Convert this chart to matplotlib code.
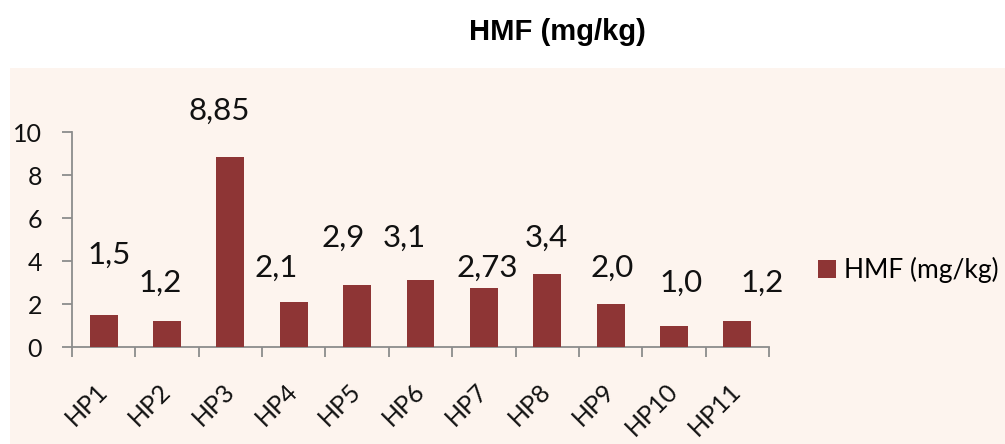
import matplotlib
matplotlib.use("Agg")
import matplotlib.pyplot as plt
from matplotlib.patches import Rectangle

categories = ["HP1", "HP2", "HP3", "HP4", "HP5", "HP6", "HP7", "HP8", "HP9", "HP10", "HP11"]
values = [1.5, 1.2, 8.85, 2.1, 2.9, 3.1, 2.73, 3.4, 2.0, 1.0, 1.2]
value_labels = ["1,5", "1,2", "8,85", "2,1", "2,9", "3,1", "2,73", "3,4", "2,0", "1,0", "1,2"]
series_name = "HMF (mg/kg)"
title = "HMF (mg/kg)"
yticks = [0, 2, 4, 6, 8, 10]

# manual label placement (layout only): x offset in category units, y position in data units
label_dx = [0.09, -0.11, -0.17, -0.27, -0.22, -0.25, 0.06, -0.02, 0.03, 0.11, 0.39]
label_y = [4.3, 2.98, 11.0, 3.67, 5.1, 5.1, 3.67, 5.1, 3.67, 2.98, 2.98]

BAR = "#8E3535"
BG = "#FDF4EE"
GRAY = "#8C8C8C"
TXT = "#111111"
FONT = ["Lato", "DejaVu Sans"]

fig = plt.figure(figsize=(10.05, 4.44), dpi=100, facecolor="white")
fig.patches.append(Rectangle((10 / 1005, 0), 1 - 10 / 1005, (444 - 68) / 444,
                             transform=fig.transFigure, facecolor=BG, edgecolor="none", zorder=-10))

ax = fig.add_axes([72 / 1005, 97 / 444, (769 - 72) / 1005, (347 - 132) / 444])
ax.set_facecolor("none")
x = list(range(len(categories)))
bars = ax.bar(x, values, width=0.44, color=BAR, label=series_name, zorder=3)

ax.set_xlim(-0.5, len(categories) - 0.5)
ax.set_ylim(0, 10)
for s in ["top", "right"]:
    ax.spines[s].set_visible(False)
for s in ["left", "bottom"]:
    ax.spines[s].set_color(GRAY)
    ax.spines[s].set_linewidth(1.3)

ax.set_yticks(yticks)
ax.set_yticklabels([str(v) for v in yticks], fontsize=18, family=FONT, color=TXT)
ax.tick_params(axis="y", direction="out", length=7, width=1.3, color=GRAY, pad=14.5)

ax.set_xticks([i - 0.5 for i in range(len(categories) + 1)])
ax.set_xticklabels([])
ax.tick_params(axis="x", which="major", direction="out", length=7, width=1.3, color=GRAY)
ax.set_xticks(x, minor=True)
ax.set_xticklabels(categories, minor=True, rotation=45, ha="right", va="center",
                   rotation_mode="anchor", fontsize=18, family=FONT, color=TXT)
ax.tick_params(axis="x", which="minor", length=0, pad=29)

for i, lab in enumerate(value_labels):
    ax.text(x[i] + label_dx[i], label_y[i], lab, ha="center", va="center",
            fontsize=22.5, family=FONT, color=TXT, clip_on=False)

fig.text(557 / 1005, 1 - 32 / 444, title, ha="center", va="center",
         fontsize=21, fontweight="bold", family=["Liberation Sans", "DejaVu Sans"])

leg = ax.legend(loc="center left", bbox_to_anchor=(807 / 1005, 1 - 270 / 444),
                bbox_transform=fig.transFigure, frameon=False,
                prop={"family": FONT, "size": 19}, handlelength=0.7, handleheight=0.7,
                handletextpad=0.3, borderaxespad=0)

fig.savefig("out.png", dpi=100, facecolor="white")
